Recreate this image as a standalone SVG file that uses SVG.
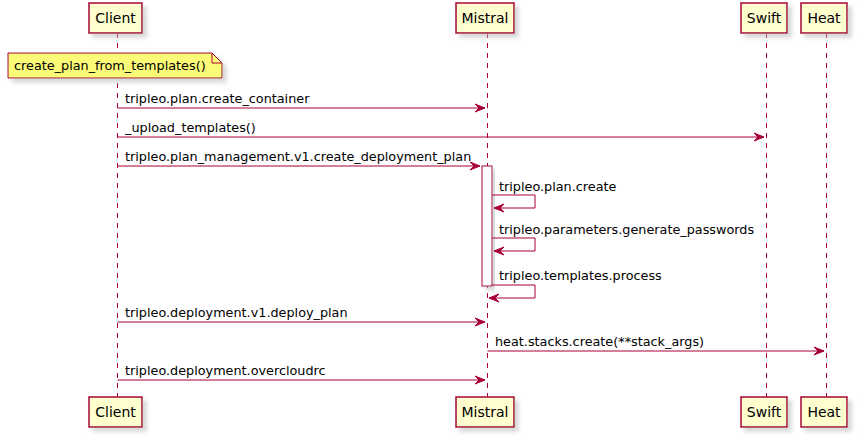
<svg xmlns="http://www.w3.org/2000/svg" width="857" height="437" viewBox="0 0 857 437">
<style>
.part{fill:#FEFECE;stroke:#A80036;stroke-width:1.5}
.pt{font-family:"DejaVu Sans",sans-serif;font-size:14px;fill:#000;text-anchor:middle}
.life{stroke:#A80036;stroke-width:1;stroke-dasharray:5,5;fill:none}
.msg{stroke:#A80036;stroke-width:1;fill:none}
.mt{font-family:"DejaVu Sans",sans-serif;font-size:12.8px;fill:#000}
.head{fill:#A80036;stroke:#A80036;stroke-width:1}
</style>
<defs>
<filter id="sh" x="-20%" y="-20%" width="150%" height="160%">
<feGaussianBlur in="SourceAlpha" stdDeviation="2" result="b"/>
<feOffset in="b" dx="4" dy="4" result="o"/>
<feColorMatrix in="o" type="matrix" values="0 0 0 0 0.5 0 0 0 0 0.5 0 0 0 0 0.5 0 0 0 0.6 0" result="c"/>
<feMerge><feMergeNode in="c"/><feMergeNode in="SourceGraphic"/></feMerge>
</filter>
</defs>
<g id="lifelines">
<line class="life" x1="117.5" y1="33" x2="117.5" y2="397"/>
<line class="life" x1="487.5" y1="33" x2="487.5" y2="397"/>
<line class="life" x1="766.5" y1="33" x2="766.5" y2="397"/>
<line class="life" x1="826.5" y1="33" x2="826.5" y2="397"/>
</g>
<g id="Client">
<rect class="part" x="89" y="3" width="53" height="30" filter="url(#sh)"/>
<text class="pt" x="115.5" y="23">Client</text>
<rect class="part" x="89" y="397" width="53" height="30" filter="url(#sh)"/>
<text class="pt" x="115.5" y="417">Client</text>
</g>
<g id="Mistral">
<rect class="part" x="456" y="3" width="58" height="30" filter="url(#sh)"/>
<text class="pt" x="485" y="23">Mistral</text>
<rect class="part" x="456" y="397" width="58" height="30" filter="url(#sh)"/>
<text class="pt" x="485" y="417">Mistral</text>
</g>
<g id="Swift">
<rect class="part" x="741" y="3" width="46" height="30" filter="url(#sh)"/>
<text class="pt" x="764" y="23">Swift</text>
<rect class="part" x="741" y="397" width="46" height="30" filter="url(#sh)"/>
<text class="pt" x="764" y="417">Swift</text>
</g>
<g id="Heat">
<rect class="part" x="801" y="3" width="46" height="30" filter="url(#sh)"/>
<text class="pt" x="824" y="23">Heat</text>
<rect class="part" x="801" y="397" width="46" height="30" filter="url(#sh)"/>
<text class="pt" x="824" y="417">Heat</text>
</g>
<g id="note">
<polygon points="8,53 212,53 222,63 222,78 8,78" fill="#FBFB77" stroke="#A80036" stroke-width="1" filter="url(#sh)"/>
<path d="M212,53 L212,63 L222,63" fill="none" stroke="#A80036" stroke-width="1"/>
<text class="mt" x="14" y="70">create_plan_from_templates()</text>
</g>
<g id="activation">
<rect x="482" y="166" width="10" height="120" fill="#FFFFFF" stroke="#A80036" stroke-width="1" filter="url(#sh)"/>
</g>
<g id="connectors">
<line class="msg" x1="117.5" y1="108" x2="485" y2="108"/>
<polygon class="head" points="475,104 485,108 475,112 479,108"/>
<text class="mt" x="125" y="103">tripleo.plan.create_container</text>

<line class="msg" x1="117.5" y1="137" x2="764" y2="137"/>
<polygon class="head" points="754,133 764,137 754,141 758,137"/>
<text class="mt" x="125" y="132">_upload_templates()</text>

<line class="msg" x1="117.5" y1="166" x2="480" y2="166"/>
<polygon class="head" points="470,162 480,166 470,170 474,166"/>
<text class="mt" x="125" y="161">tripleo.plan_management.v1.create_deployment_plan</text>

<polyline class="msg" points="492,195 535,195 535,208 494,208"/>
<polygon class="head" points="504,204 494,208 504,212 500,208"/>
<text class="mt" x="499" y="191">tripleo.plan.create</text>

<polyline class="msg" points="492,238 535,238 535,251 494,251"/>
<polygon class="head" points="504,247 494,251 504,255 500,251"/>
<text class="mt" x="499" y="234">tripleo.parameters.generate_passwords</text>

<polyline class="msg" points="492,285 535,285 535,298 489,298"/>
<polygon class="head" points="499,294 489,298 499,302 495,298"/>
<text class="mt" x="499" y="280">tripleo.templates.process</text>

<line class="msg" x1="117.5" y1="322" x2="485" y2="322"/>
<polygon class="head" points="475,318 485,322 475,326 479,322"/>
<text class="mt" x="125" y="317">tripleo.deployment.v1.deploy_plan</text>

<line class="msg" x1="487.5" y1="351" x2="824" y2="351"/>
<polygon class="head" points="814,347 824,351 814,355 818,351"/>
<text class="mt" x="495" y="346">heat.stacks.create(**stack_args)</text>

<line class="msg" x1="117.5" y1="380" x2="485" y2="380"/>
<polygon class="head" points="475,376 485,380 475,384 479,380"/>
<text class="mt" x="125" y="375">tripleo.deployment.overcloudrc</text>
</g>
</svg>
